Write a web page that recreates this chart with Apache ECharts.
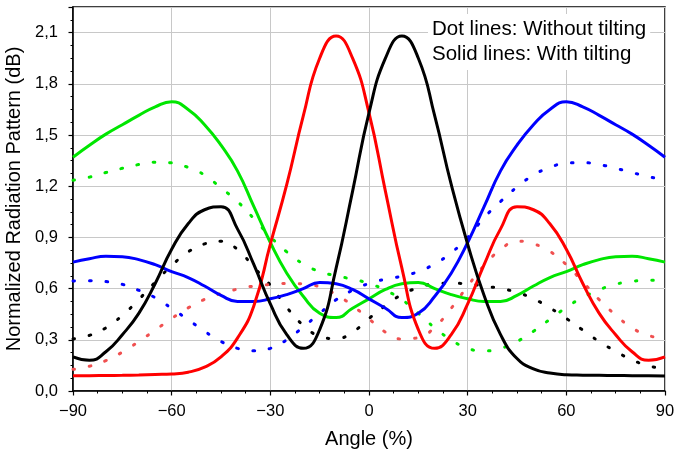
<!DOCTYPE html>
<html>
<head>
<meta charset="utf-8">
<title>Normalized Radiation Pattern</title>
<script src="https://cdn.jsdelivr.net/npm/echarts@6/dist/echarts.min.js"></script>
<style>
  html, body { margin: 0; padding: 0; background: #fff; }
  #chart { width: 675px; height: 454px; }
</style>
</head>
<body>
<div id="chart"></div>
<script>
// angle (deg) sample points shared by every curve
const angles = [-90, -85, -80, -75, -70, -65, -60, -55, -50, -45, -40, -35, -30, -25, -20, -15, -10, -5, 0,
  5, 10, 15, 20, 25, 30, 35, 40, 45, 50, 55, 60, 65, 70, 75, 80, 85, 90];

// solid lines: with tilting
const blackSolid = [0.20, 0.18, 0.23, 0.33, 0.455, 0.63, 0.83, 0.98, 1.062, 1.08, 0.95, 0.74, 0.51, 0.33, 0.25, 0.36, 0.72, 1.17, 1.63,
  1.95, 2.08, 1.95, 1.61, 1.21, 0.86, 0.56, 0.33, 0.19, 0.13, 0.105, 0.095, 0.093, 0.092, 0.091, 0.09, 0.089, 0.088];
const redSolid = [0.09, 0.09, 0.091, 0.092, 0.094, 0.097, 0.10, 0.11, 0.14, 0.20, 0.31, 0.50, 0.86, 1.21, 1.61, 1.95, 2.08, 1.95, 1.63,
  1.17, 0.72, 0.36, 0.25, 0.33, 0.51, 0.74, 0.95, 1.08, 1.062, 0.98, 0.83, 0.63, 0.455, 0.33, 0.23, 0.18, 0.20];
const greenSolid = [1.37, 1.44, 1.505, 1.56, 1.615, 1.665, 1.695, 1.65, 1.56, 1.44, 1.29, 1.08, 0.87, 0.69, 0.555, 0.455, 0.43, 0.485, 0.54,
  0.595, 0.628, 0.636, 0.60, 0.565, 0.54, 0.525, 0.525, 0.56, 0.615, 0.665, 0.70, 0.74, 0.77, 0.787, 0.79, 0.775, 0.755];
const blueSolid = [0.755, 0.775, 0.79, 0.787, 0.77, 0.74, 0.70, 0.665, 0.615, 0.56, 0.525, 0.525, 0.54, 0.565, 0.60, 0.636, 0.628, 0.595, 0.54,
  0.485, 0.43, 0.455, 0.555, 0.69, 0.87, 1.08, 1.29, 1.44, 1.56, 1.65, 1.695, 1.665, 1.615, 1.56, 1.505, 1.44, 1.37];

// dotted lines: without tilting
const blackDot = [0.305, 0.326, 0.37, 0.443, 0.536, 0.638, 0.735, 0.815, 0.862, 0.878, 0.83, 0.725, 0.62, 0.49, 0.385, 0.322, 0.307, 0.345, 0.425,
  0.50, 0.565, 0.605, 0.628, 0.632, 0.627, 0.615, 0.60, 0.578, 0.54, 0.487, 0.425, 0.357, 0.29, 0.233, 0.182, 0.148, 0.128];
const redDot = [0.127, 0.145, 0.178, 0.228, 0.29, 0.357, 0.425, 0.487, 0.537, 0.572, 0.597, 0.615, 0.624, 0.63, 0.628, 0.61, 0.565, 0.50, 0.422,
  0.345, 0.305, 0.312, 0.375, 0.485, 0.615, 0.735, 0.828, 0.878, 0.862, 0.818, 0.74, 0.64, 0.535, 0.445, 0.37, 0.325, 0.307];
const greenDot = [1.235, 1.253, 1.28, 1.305, 1.327, 1.34, 1.337, 1.31, 1.265, 1.19, 1.11, 1.01, 0.905, 0.815, 0.745, 0.70, 0.675, 0.655, 0.63,
  0.59, 0.535, 0.455, 0.37, 0.30, 0.25, 0.235, 0.25, 0.29, 0.35, 0.42, 0.49, 0.548, 0.593, 0.625, 0.643, 0.648, 0.65];
const blueDot = [0.645, 0.646, 0.641, 0.625, 0.59, 0.547, 0.484, 0.418, 0.35, 0.29, 0.25, 0.236, 0.25, 0.30, 0.375, 0.455, 0.535, 0.59, 0.63,
  0.655, 0.673, 0.70, 0.745, 0.81, 0.90, 1.015, 1.11, 1.195, 1.265, 1.31, 1.335, 1.338, 1.327, 1.305, 1.28, 1.255, 1.24];

const xTicks = { min: -90, max: 90, step: 30 };
const yTicks = { min: 0, max: 2.25, step: 0.3 };

const font = 'Liberation Sans, Arial, sans-serif';
const chart = echarts.init(document.getElementById('chart'));

function curve(name, vals, color, dotted) {
  return {
    name: name,
    type: 'line',
    smooth: 0.5,
    symbol: 'none',
    data: angles.map((a, i) => [a, vals[i]]),
    lineStyle: dotted
      ? { color: color, width: 3, type: [1.5, 15], cap: 'round' }
      : { color: color, width: 3 },
    z: dotted ? 2 : 3
  };
}

const option = {
  backgroundColor: '#fff',
  animation: false,
  grid: {
    left: 73, right: 10, top: 7, bottom: 63,
    outerBoundsMode: 'none',
    containLabel: false,
    show: true, borderColor: '#000', borderWidth: 1.5
  },
  title: {
    text: 'Dot lines: Without tilting\nSolid lines: With tilting',
    left: 428, top: 14,
    padding: [3, 4],
    backgroundColor: '#fff',
    textStyle: { fontFamily: font, fontSize: 20.5, fontWeight: 'normal', color: '#000', lineHeight: 25 }
  },
  xAxis: {
    type: 'value',
    min: xTicks.min, max: xTicks.max, interval: xTicks.step,
    name: 'Angle (%)', nameLocation: 'middle', nameGap: 38,
    nameTextStyle: { fontFamily: font, fontSize: 20, color: '#000' },
    axisLine: { onZero: false, lineStyle: { color: '#000', width: 1.5 } },
    axisTick: { length: 4.5, lineStyle: { color: '#000', width: 1.2 } },
    minorTick: { show: true, splitNumber: 4, length: 2.5, lineStyle: { color: '#000', width: 1 } },
    axisLabel: {
      fontFamily: font, fontSize: 16.5, color: '#000', margin: 12,
      formatter: v => String(v).replace('-', '\u2212')
    },
    splitLine: { show: true, lineStyle: { color: '#c8c8c8', width: 1 } }
  },
  yAxis: {
    type: 'value',
    min: yTicks.min, max: yTicks.max, interval: yTicks.step,
    name: 'Normalized Radiation Pattern (dB)', nameLocation: 'middle', nameGap: 40,
    nameTextStyle: { fontFamily: font, fontSize: 20, color: '#000' },
    axisLine: { onZero: false, lineStyle: { color: '#000', width: 1.5 } },
    axisTick: { length: 4.5, lineStyle: { color: '#000', width: 1.2 } },
    minorTick: { show: true, splitNumber: 4, length: 2.5, lineStyle: { color: '#000', width: 1 } },
    axisLabel: {
      fontFamily: font, fontSize: 16.5, color: '#000', margin: 15, showMaxLabel: false,
      formatter: v => v.toFixed(1).replace('.', ',')
    },
    splitLine: { show: true, lineStyle: { color: '#c8c8c8', width: 1 } }
  },
  series: [
    curve('Black (no tilt)', blackDot, '#000000', true),
    curve('Red (no tilt)', redDot, '#f05050', true),
    curve('Green (no tilt)', greenDot, '#00e600', true),
    curve('Blue (no tilt)', blueDot, '#0000ff', true),
    curve('Green', greenSolid, '#00e600', false),
    curve('Blue', blueSolid, '#0000ff', false),
    curve('Red', redSolid, '#ff0000', false),
    curve('Black', blackSolid, '#000000', false)
  ]
};

chart.setOption(option);
</script>
</body>
</html>
